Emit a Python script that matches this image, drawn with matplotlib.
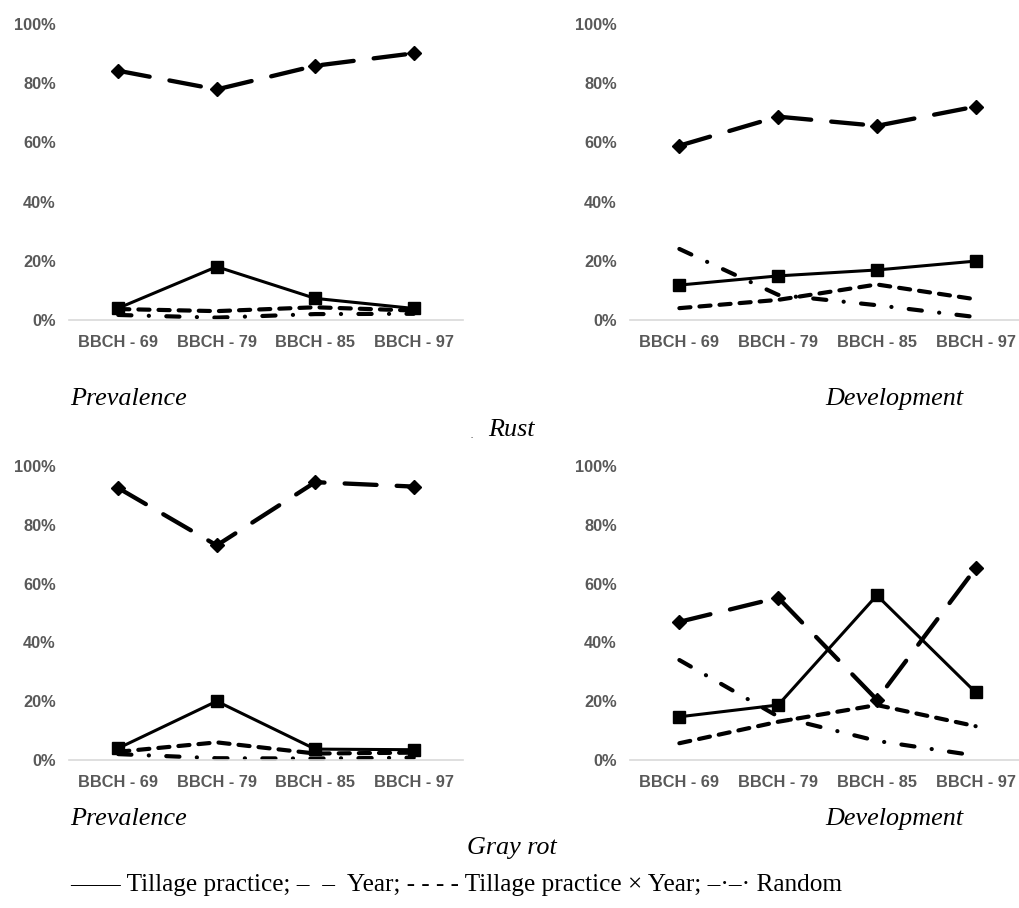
import numpy as np
import matplotlib
matplotlib.use("Agg")
import matplotlib.pyplot as plt
from matplotlib.ticker import FuncFormatter

# growth stages on the x axis
stages = ["BBCH - 69", "BBCH - 79", "BBCH - 85", "BBCH - 97"]

# Rust - prevalence (%)
rust_prev_tillage = [4, 18, 7.3, 3.9]
rust_prev_year = [84.2, 77.9, 85.9, 90.1]
rust_prev_txy = [3.7, 3.0, 4.3, 3.2]
rust_prev_random = [1.7, 0.8, 2.0, 2.1]

# Rust - development (%)
rust_dev_tillage = [11.8, 14.9, 16.9, 19.9]
rust_dev_year = [58.9, 68.7, 65.6, 72.1]
rust_dev_txy = [4.0, 6.8, 12.0, 7.0]
rust_dev_random = [24, 8.5, 5.0, 1.0]

# Gray rot - prevalence (%)
gray_prev_tillage = [4.0, 20.0, 3.7, 3.5]
gray_prev_year = [92.5, 73.0, 94.5, 93.0]
gray_prev_txy = [2.8, 6.0, 2.2, 2.5]
gray_prev_random = [2.0, 0.6, 0.5, 0.8]

# Gray rot - development (%)
gray_dev_tillage = [14.7, 18.7, 56.0, 23.0]
gray_dev_year = [47.0, 55.2, 20.5, 65.2]
gray_dev_txy = [5.7, 13.0, 18.7, 11.5]
gray_dev_random = [34.0, 14.8, 6.5, 1.5]

plt.rcParams["lines.scale_dashes"] = False

fig = plt.figure(figsize=(10.2, 9.08), dpi=100)

W, H = 1020, 908
def box(x0, x1, ytop, ybot):
    return [x0 / W, 1 - ybot / H, (x1 - x0) / W, (ybot - ytop) / H]

panels = [
    (box(69, 463, 24, 320), rust_prev_tillage, rust_prev_year, rust_prev_txy, rust_prev_random),
    (box(630, 1025, 24, 320), rust_dev_tillage, rust_dev_year, rust_dev_txy, rust_dev_random),
    (box(69, 463, 466, 760), gray_prev_tillage, gray_prev_year, gray_prev_txy, gray_prev_random),
    (box(630, 1025, 466, 760), gray_dev_tillage, gray_dev_year, gray_dev_txy, gray_dev_random),
]

gray_txt = "#595959"
x = np.arange(len(stages))

for rect, till, year, txy, rnd in panels:
    ax = fig.add_axes(rect)
    ax.plot(x, np.array(rnd) / 100, color="black", lw=3.0, dashes=(9.5, 12.5, 0.1, 12.5),
            dash_capstyle="round")
    ax.plot(x, np.array(txy) / 100, color="black", lw=3.0, dashes=(8, 6.5),
            dash_capstyle="round")
    ax.plot(x, np.array(year) / 100, color="black", lw=3.1, dashes=(23, 14.5),
            dash_capstyle="round", marker="D", markersize=7.5)
    ax.plot(x, np.array(till) / 100, color="black", lw=2.2,
            marker="s", markersize=8.5)
    ax.set_xlim(-0.5, 3.5)
    ax.set_ylim(0, 1)
    ax.set_yticks([0, 0.2, 0.4, 0.6, 0.8, 1.0])
    ax.yaxis.set_major_formatter(FuncFormatter(lambda v, p: f"{v*100:.0f}%"))
    ax.set_xticks(x)
    ax.set_xticklabels(stages)
    for s in ["top", "right", "left"]:
        ax.spines[s].set_visible(False)
    ax.spines["bottom"].set_color("#d9d9d9")
    ax.spines["bottom"].set_linewidth(1.2)
    ax.tick_params(length=0, labelcolor=gray_txt)
    ax.tick_params(axis="y", pad=9.5)
    ax.tick_params(axis="x", pad=11)
    for lab in ax.get_xticklabels() + ax.get_yticklabels():
        lab.set_fontfamily("Liberation Sans")
        lab.set_fontweight("bold")
        lab.set_fontsize(11.8)
    ax.patch.set_alpha(0)
    for ln in ax.lines:
        ln.set_clip_on(False)

serif = dict(family="Liberation Serif", style="italic", fontsize=18.8)
fig.text(70 / W, 1 - 399 / H, "Prevalence", ha="left", va="center", **serif)
fig.text(963 / W, 1 - 399 / H, "Development", ha="right", va="center", **serif)
fig.text(511 / W, 1 - 430 / H, "Rust", ha="center", va="center", **serif)
fig.text(472 / W, 1 - 436 / H, ".", ha="center", va="center", family="Liberation Serif", fontsize=6)
fig.text(70 / W, 1 - 819 / H, "Prevalence", ha="left", va="center", **serif)
fig.text(963 / W, 1 - 819 / H, "Development", ha="right", va="center", **serif)
fig.text(512 / W, 1 - 848 / H, "Gray rot", ha="center", va="center", **serif)
fig.text(70 / W, 1 - 885 / H,
         "\u2014\u2014 Tillage practice; \u2013  \u2013  Year; - - - - Tillage practice \u00d7 Year; \u2013\u00b7\u2013\u00b7 Random",
         ha="left", va="center", family="Liberation Serif", fontsize=18.2)

fig.savefig("out.png", dpi=100)
